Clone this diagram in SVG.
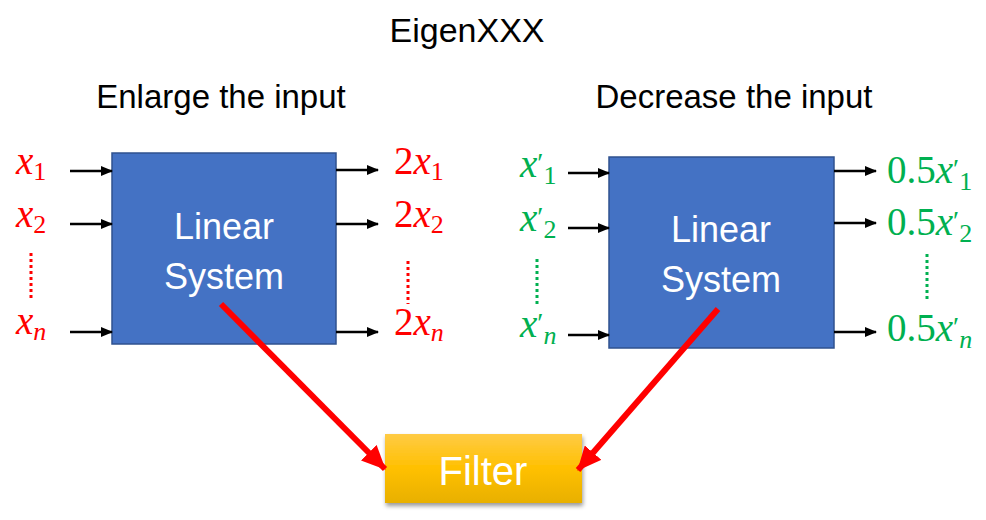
<svg xmlns="http://www.w3.org/2000/svg" width="986" height="520" viewBox="0 0 986 520">
<defs>
<style>
.sans{font-family:"Liberation Sans",Arial,sans-serif}
.title{font-size:34px;fill:#000}
.sub{font-size:33px;fill:#000}
.box{fill:#4472C4;stroke:#2F528F;stroke-width:1.5}
.boxtxt{font-size:36px;fill:#fff;text-anchor:middle}
.m{font-family:"Liberation Serif","Times New Roman",serif;font-size:39px}
.it{font-style:italic}
.s{font-size:26px}
.p{font-size:28px}
.r{fill:#FF0000}
.g{fill:#00B050}
.blk{stroke:#000;stroke-width:2.5;fill:none;marker-end:url(#ah)}
.red{stroke:#FF0000;stroke-width:6;fill:none;marker-end:url(#rh)}
.rdot{stroke:#FF0000;stroke-width:3;stroke-dasharray:3 3}
.gdot{stroke:#00B050;stroke-width:3;stroke-dasharray:3 3}
</style>
<marker id="ah" markerUnits="userSpaceOnUse" markerWidth="12" markerHeight="10" refX="11" refY="5" orient="auto">
<path d="M0,0 L12,5 L0,10 Z" fill="#000"/>
</marker>
<marker id="rh" markerUnits="userSpaceOnUse" markerWidth="24" markerHeight="22" refX="23" refY="11" orient="auto">
<path d="M0,0 L24,11 L0,22 Z" fill="#FF0000"/>
</marker>
<linearGradient id="fg" x1="0" y1="0" x2="0" y2="1">
<stop offset="0" stop-color="#FFCB45"/>
<stop offset="0.5" stop-color="#FFC000"/>
<stop offset="1" stop-color="#E8B000"/>
</linearGradient>
<filter id="sh" x="-10%" y="-10%" width="130%" height="140%">
<feDropShadow dx="1" dy="3" stdDeviation="2" flood-color="#000" flood-opacity="0.4"/>
</filter>
</defs>
<rect width="986" height="520" fill="#fff"/>

<g id="title"><text class="sans title" x="467" y="42" text-anchor="middle">EigenXXX</text></g>
<g id="label-enlarge"><text class="sans sub" x="221" y="108" text-anchor="middle">Enlarge the input</text></g>
<g id="label-decrease"><text class="sans sub" x="734" y="108" text-anchor="middle">Decrease the input</text></g>

<g id="system-left">
<rect class="box" x="112" y="153" width="224" height="191"/>
<text class="sans boxtxt" x="224" y="239">Linear</text>
<text class="sans boxtxt" x="224" y="289">System</text>
</g>
<g id="system-right">
<rect class="box" x="609" y="157" width="225" height="191"/>
<text class="sans boxtxt" x="721" y="242">Linear</text>
<text class="sans boxtxt" x="721" y="292">System</text>
</g>
<g id="filter">
<rect x="385" y="434" width="197" height="69" fill="url(#fg)" filter="url(#sh)"/>
<text class="sans" x="483" y="485" font-size="40" fill="#fff" text-anchor="middle">Filter</text>
</g>

<g id="inputs-left">
<text class="m r" x="16" y="174"><tspan class="it">x</tspan><tspan class="s" dy="6">1</tspan></text>
<text class="m r" x="16" y="227"><tspan class="it">x</tspan><tspan class="s" dy="6">2</tspan></text>
<line class="rdot" x1="31" y1="253" x2="31" y2="298"/>
<text class="m r" x="16" y="334"><tspan class="it">x</tspan><tspan class="s it" dy="6">n</tspan></text>
</g>
<g id="outputs-left">
<text class="m r" x="394" y="174">2<tspan class="it">x</tspan><tspan class="s" dy="6">1</tspan></text>
<text class="m r" x="394" y="227">2<tspan class="it">x</tspan><tspan class="s" dy="6">2</tspan></text>
<line class="rdot" x1="408" y1="261" x2="408" y2="304"/>
<text class="m r" x="394" y="335">2<tspan class="it">x</tspan><tspan class="s it" dy="6">n</tspan></text>
</g>
<g id="inputs-right">
<text class="m g" x="520" y="177"><tspan class="it">x</tspan><tspan class="p" dy="-5">′</tspan><tspan class="s" dy="12">1</tspan></text>
<text class="m g" x="520" y="231"><tspan class="it">x</tspan><tspan class="p" dy="-5">′</tspan><tspan class="s" dy="12">2</tspan></text>
<line class="gdot" x1="537" y1="259" x2="537" y2="304"/>
<text class="m g" x="520" y="337"><tspan class="it">x</tspan><tspan class="p" dy="-5">′</tspan><tspan class="s it" dy="12">n</tspan></text>
</g>
<g id="outputs-right">
<text class="m g" x="887" y="183">0.5<tspan class="it">x</tspan><tspan class="p" dy="-5">′</tspan><tspan class="s" dy="12">1</tspan></text>
<text class="m g" x="887" y="235">0.5<tspan class="it">x</tspan><tspan class="p" dy="-5">′</tspan><tspan class="s" dy="12">2</tspan></text>
<line class="gdot" x1="927" y1="254" x2="927" y2="299"/>
<text class="m g" x="887" y="341">0.5<tspan class="it">x</tspan><tspan class="p" dy="-5">′</tspan><tspan class="s it" dy="12">n</tspan></text>
</g>

<g id="connectors">
<line class="blk" x1="70" y1="171" x2="112" y2="171"/>
<line class="blk" x1="70" y1="224" x2="112" y2="224"/>
<line class="blk" x1="70" y1="332" x2="112" y2="332"/>
<line class="blk" x1="336" y1="170" x2="378" y2="170"/>
<line class="blk" x1="336" y1="224" x2="378" y2="224"/>
<line class="blk" x1="336" y1="332" x2="378" y2="332"/>
<line class="blk" x1="568" y1="173" x2="609" y2="173"/>
<line class="blk" x1="568" y1="228" x2="609" y2="228"/>
<line class="blk" x1="568" y1="335" x2="609" y2="335"/>
<line class="blk" x1="834" y1="171" x2="876" y2="171"/>
<line class="blk" x1="834" y1="223" x2="876" y2="223"/>
<line class="blk" x1="834" y1="332" x2="876" y2="332"/>
<line class="red" x1="221" y1="304" x2="385" y2="469"/>
<line class="red" x1="718" y1="309" x2="578" y2="470"/>
</g>
</svg>
